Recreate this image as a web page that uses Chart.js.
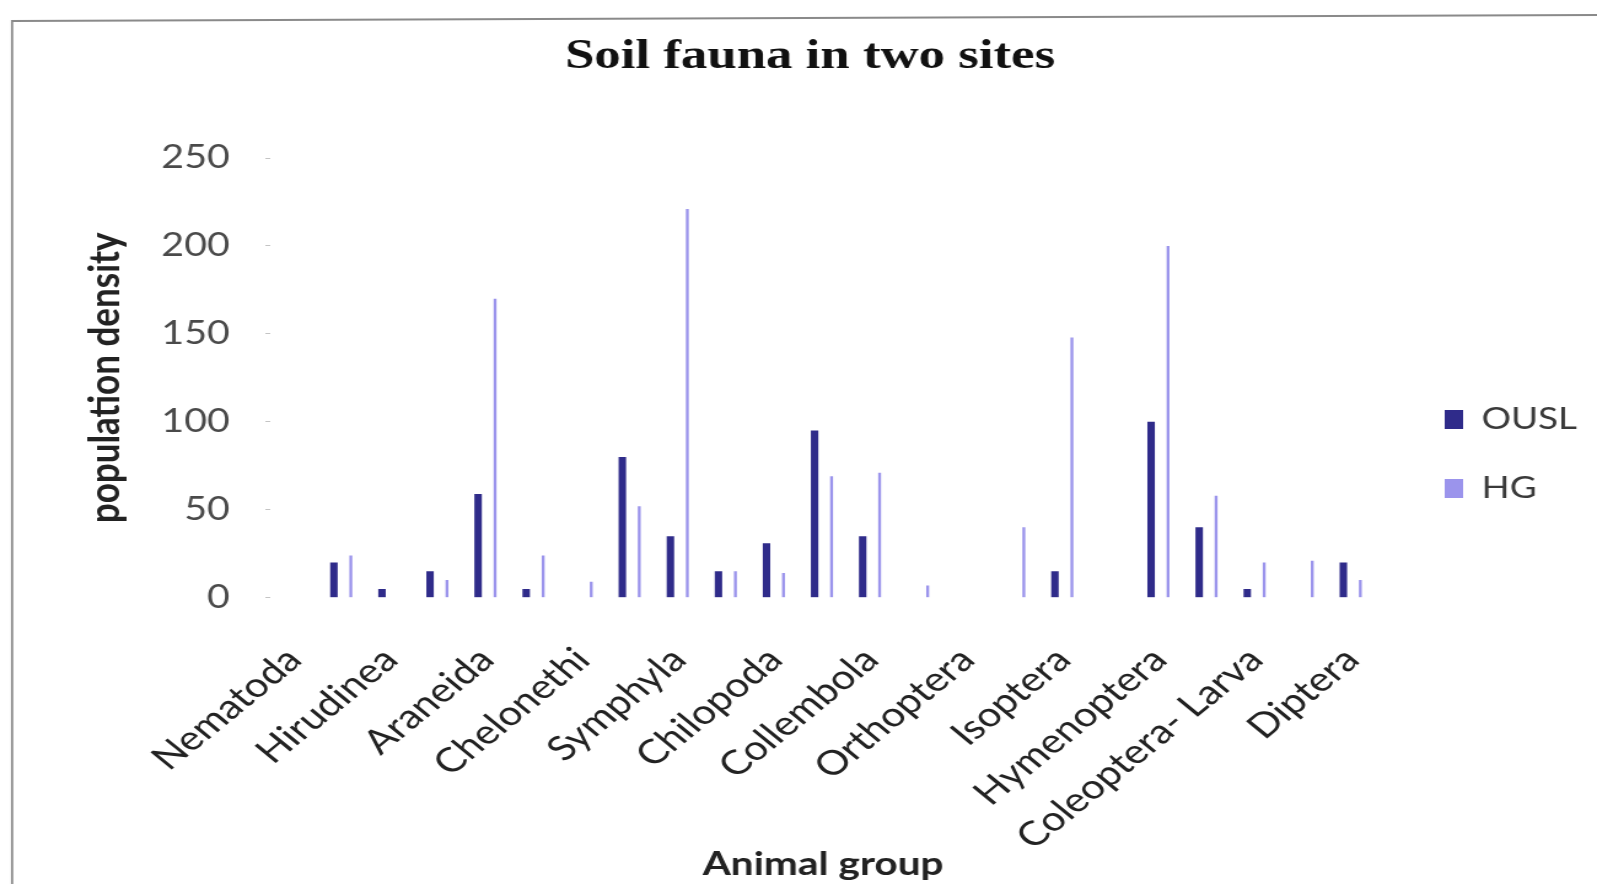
<!DOCTYPE html>
<html>
<head>
<meta charset="utf-8">
<title>Soil fauna in two sites</title>
<script src="https://cdn.jsdelivr.net/npm/chart.js@4/dist/chart.umd.min.js"></script>
<style>
  html, body { margin: 0; padding: 0; background: #fff; }
  #wrap { width: 1597px; height: 884px; overflow: hidden; }
  canvas { display: block; }
</style>
</head>
<body>
<div id="wrap">
  <!-- drawn at 1300 px wide and widened to 1597 px, giving the wide lettering of the sheet -->
  <canvas id="chart" width="1300" height="884" style="width:1597px;height:884px"></canvas>
</div>
<script>
// Animal groups along the x axis (only every other group carries a printed name)
const groups = [
  'Nematoda', '', 'Hirudinea', '', 'Araneida', '', 'Chelonethi', '', 'Symphyla', '',
  'Chilopoda', '', 'Collembola', '', 'Orthoptera', '', 'Isoptera', '', 'Hymenoptera', '',
  'Coleoptera- Larva', '', 'Diptera'
];

// Population density per group at each site
const ousl = [0, 20, 5, 15, 59, 5, 0, 80, 35, 15, 31, 95, 35, 0, 0, 0, 15, 0, 100, 40, 5, 0, 20];
const hg   = [0, 24, 0, 10, 170, 24, 9, 52, 221, 15, 14, 69, 71, 7, 0, 40, 148, 0, 200, 58, 20, 21, 10];

// Value axis ticks
const yTicks = [0, 50, 100, 150, 200, 250];

const seriesNames = ['OUSL', 'HG'];
const seriesColors = ['#2f2b8a', '#9b94ec'];

// Layout (canvas units): plot spans x 220..1120, legend swatches start at x 1176
const CANVAS_W = 1300;
const PLOT_LEFT = 220, PLOT_RIGHT = 1120, SWATCH_LEFT = 1176, TITLE_CENTER = 659.4;
const legendFont = { family: 'Lato', size: 30 };
const legendPad = 39, swatchW = 15;

const meas = document.createElement('canvas').getContext('2d');
meas.font = legendFont.size + 'px ' + legendFont.family;
const legendText = Math.max(...seriesNames.map(n => meas.measureText(n).width));
const legendWidth = legendPad + swatchW + legendFont.size / 2 + legendText + 10;
const legendLeft = SWATCH_LEFT - legendPad;
const padRight = Math.max(0, CANVAS_W - legendLeft - legendWidth);
const padLeft = Math.max(0, 2 * TITLE_CENTER - CANVAS_W + padRight);

// Grey sheet frame along the top and left edges
const framePlugin = {
  id: 'sheetFrame',
  beforeDraw(chart) {
    const c = chart.ctx;
    c.save();
    c.fillStyle = '#ffffff';
    c.fillRect(0, 0, chart.width, chart.height);
    c.strokeStyle = '#8a8a8a';
    c.lineWidth = 1.8;
    c.beginPath();
    c.moveTo(9.8, chart.height);
    c.lineTo(9.8, 21);
    c.lineTo(chart.width, 15);
    c.stroke();
    c.restore();
  }
};

const ctx = document.getElementById('chart').getContext('2d');
new Chart(ctx, {
  type: 'bar',
  data: {
    labels: groups,
    datasets: [
      { label: seriesNames[0], data: ousl, backgroundColor: seriesColors[0],
        barPercentage: 0.44, categoryPercentage: 0.705 },
      { label: seriesNames[1], data: hg, backgroundColor: seriesColors[1],
        barPercentage: 0.17, categoryPercentage: 0.705 }
    ]
  },
  options: {
    responsive: false,
    animation: false,
    devicePixelRatio: 1,
    layout: { padding: { left: padLeft, right: padRight, top: 24, bottom: 0 } },
    plugins: {
      title: {
        display: true,
        text: 'Soil fauna in two sites',
        color: '#111',
        font: { family: '"Liberation Serif", "Times New Roman", serif', weight: 'bold', size: 43 },
        padding: { top: 7, bottom: 75.4 }
      },
      legend: {
        position: 'right',
        align: 'center',
        labels: {
          boxWidth: swatchW,
          boxHeight: 19,
          padding: legendPad,
          color: '#3a3a3a',
          font: legendFont
        }
      },
      tooltip: { enabled: false }
    },
    scales: {
      x: {
        grid: { display: false, drawTicks: false },
        border: { display: false },
        ticks: {
          autoSkip: false,
          minRotation: 45,
          maxRotation: 45,
          padding: 42,
          color: '#222',
          font: { family: 'Lato', size: 34 }
        },
        title: {
          display: true,
          text: 'Animal group',
          color: '#222',
          font: { family: 'Lato', weight: 'bold', size: 33 },
          padding: { top: 0, bottom: 0 }
        },
        afterFit(scale) { scale.height = 286.3; }
      },
      y: {
        min: yTicks[0],
        max: yTicks[yTicks.length - 1],
        ticks: {
          stepSize: yTicks[1] - yTicks[0],
          padding: 29,
          color: '#4a4a4a',
          font: { family: 'Lato', size: 32 }
        },
        grid: { drawOnChartArea: false, drawTicks: true, tickLength: 4, color: '#c4c4c4' },
        border: { display: false },
        title: {
          display: true,
          text: 'population density',
          color: '#222',
          font: { family: 'Lato', weight: 'bold', size: 35 },
          padding: { top: Math.max(0, 85.5 - padLeft - 21), bottom: 0 }
        },
        afterFit(scale) { scale.width = PLOT_LEFT - padLeft; }
      },
      gap: {
        position: 'right',
        grid: { display: false },
        border: { display: false },
        ticks: { display: false },
        afterFit(scale) { scale.width = legendLeft - PLOT_RIGHT; }
      }
    }
  },
  plugins: [framePlugin]
});
</script>
</body>
</html>
